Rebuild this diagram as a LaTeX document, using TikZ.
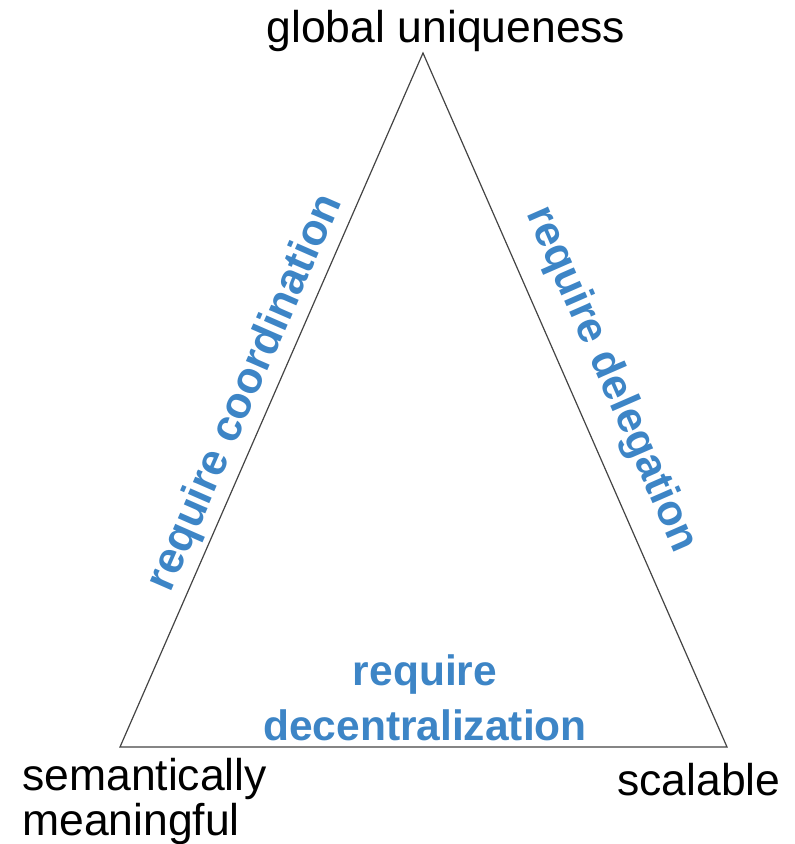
\documentclass[tikz,border=0pt]{standalone}
\usepackage{fontspec}
\setmainfont{Liberation Sans}
\usetikzlibrary{calc}
\definecolor{edgeblue}{HTML}{3D85C6}
\definecolor{edgegray}{HTML}{444444}
\begin{document}
\begin{tikzpicture}[x=1pt,y=-1pt,
  vertexlabel/.style={inner sep=0pt,text=black,font=\fontsize{44.5}{45}\selectfont},
  edgelabel/.style={inner sep=0pt,text=edgeblue,font=\bfseries\fontsize{43}{55}\selectfont},
  side/.style={draw=edgegray,line width=1.2pt,line join=miter}]
\useasboundingbox (0,0) rectangle (795,844);

% corners of the triangle
\coordinate (T)  at (423,53);
\coordinate (BL) at (120,747);
\coordinate (BR) at (727,747);
\draw[side] (T) -- (BL) -- (BR) -- cycle;

% corner labels (a multi-line node sits on the baseline of its last line)
\node[vertexlabel,anchor=base] (top) at (446,42) {global uniqueness};
\node[vertexlabel,anchor=base west,align=left] (left) at (22,835) {semantically\\meaningful};
\node[vertexlabel,anchor=base west] (right) at (617,795) {scalable};

% side labels
\coordinate (mL) at ($(BL)!0.495!(T)$);
\coordinate (mR) at ($(T)!0.494!(BR)$);
\node[edgelabel,font=\bfseries\fontsize{44}{55}\selectfont,rotate=66.4,anchor=base]
  (coord) at ($(mL)!15pt!90:(T)$) {require coordination};
\node[edgelabel,rotate=-66.4,anchor=base]
  (deleg) at ($(mR)!30pt!-90:(T)$) {require delegation};
\node[edgelabel,font=\bfseries\fontsize{42.5}{55}\selectfont,align=center,anchor=base]
  (decent) at (425,740) {require\\decentralization};
\end{tikzpicture}
\end{document}
